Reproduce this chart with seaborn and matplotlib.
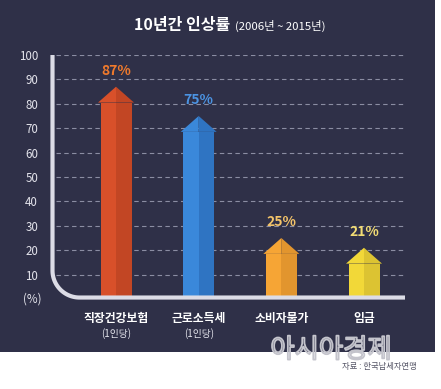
import numpy as np
import pandas as pd
import matplotlib
matplotlib.use("Agg")
import matplotlib.pyplot as plt
import seaborn as sns
from matplotlib.patches import Rectangle, Polygon
import matplotlib.patheffects as pe

categories = ["직장건강보험", "근로소득세", "소비자물가", "임금"]
sublabels = ["(1인당)", "(1인당)", "", ""]
values = [87, 75, 25, 21]
yticks = [10, 20, 30, 40, 50, 60, 70, 80, 90, 100]

colors_left = ["#d8502a", "#3a88da", "#f6a535", "#f2d838"]
colors_right = ["#c24624", "#2f74c2", "#e2952e", "#dcc332"]
label_colors = ["#f07a2c", "#4b93e2", "#f4c46a", "#f2dc74"]

BG = "#2f3048"
sns.set_theme(style="white")
plt.rcParams['font.family'] = ['Noto Sans CJK KR', 'DejaVu Sans']

W, H = 441, 389
fig = plt.figure(figsize=(W / 100, H / 100), dpi=100)
fig.patch.set_facecolor("white")
fig.patches.append(Rectangle((0, (H - 352) / H), 435 / W, 352 / H,
                             transform=fig.transFigure, facecolor=BG,
                             edgecolor="none", zorder=-5))

# axes mapping: y=0 at px 299, y=100 at px 55; x cat0 at 116, cat3 at 364
px_per_x = (364 - 116) / 3
x_left, x_right = 52, 410
ax = fig.add_axes([x_left / W, (H - 299) / H, (x_right - x_left) / W, (299 - 55) / H])
ax.set_zorder(2)
ax.set_facecolor("none")

df = pd.DataFrame({"cat": categories, "val": values})
bw = 31 / px_per_x
sns.barplot(data=df, x="cat", y="val", ax=ax, width=bw, palette=colors_left,
            hue="cat", legend=False, saturation=1, zorder=3)

xl = (x_left - 116) / px_per_x
xr = (x_right - 116) / px_per_x
ax.set_xlim(xl, xr)
ax.set_ylim(0, 100)

head_h = 6.5
head_extra = 2.5 / px_per_x
bars = list(ax.patches)
for i, p in enumerate(bars):
    x0 = p.get_x(); w = p.get_width(); top = values[i]
    shaft_top = top - head_h
    p.set_height(shaft_top)
    p.set_edgecolor("none")
    cx = x0 + w / 2
    ax.add_patch(Rectangle((cx, 0), w / 2, shaft_top, facecolor=colors_right[i],
                           edgecolor="none", zorder=3.1))
    ax.add_patch(Polygon([(x0 - head_extra, shaft_top), (cx, top), (cx, shaft_top)],
                         closed=True, facecolor=colors_left[i], edgecolor="none", zorder=3.2))
    ax.add_patch(Polygon([(cx, shaft_top), (cx, top), (x0 + w + head_extra, shaft_top)],
                         closed=True, facecolor=colors_right[i], edgecolor="none", zorder=3.2))
    ax.text(cx, top + 3.5, f"{values[i]}%", ha="center", va="bottom",
            color=label_colors[i], fontsize=10, fontweight="bold", zorder=4)

# dashed gridlines
for t in yticks:
    ax.plot([xl + 4 / px_per_x, xr - 5 / px_per_x], [t, t], ls=(0, (4, 3)),
            color="#8b8da3", lw=0.8, zorder=1)

# rounded axis line
ppy = (299 - 55) / 100
rx = 27 / px_per_x
ry = 27 / ppy
y_base = 0.6
xs = xl + 0.5 / px_per_x
theta = np.linspace(np.pi, 1.5 * np.pi, 40)
arc_x = xs + rx + rx * np.cos(theta)
arc_y = y_base + ry + ry * np.sin(theta)
path_x = np.concatenate([[xs], arc_x, [xr - 5 / px_per_x]])
path_y = np.concatenate([[100], arc_y, [y_base]])
ax.plot(path_x, path_y, color="#dcdce6", lw=3, solid_capstyle="butt", zorder=5, clip_on=False)

ax.set_yticks(yticks)
ax.set_yticklabels([str(t) for t in yticks], color="#e4e4ec", fontsize=8.3)
ax.tick_params(axis="y", length=0, pad=10)
ax.set_xticks([])
ax.set_xlabel(""); ax.set_ylabel("")
for s in ax.spines.values():
    s.set_visible(False)
ax.text(-0.03, 0.0, "(%)", transform=ax.transAxes, ha="right", va="center",
        color="#e4e4ec", fontsize=8.3)

# category labels
for i, c in enumerate(categories):
    ax.text(i, -7.8, c, ha="center", va="center", color="white", fontsize=8.5,
            fontweight="bold", clip_on=False)
    if sublabels[i]:
        ax.text(i, -14, sublabels[i], ha="center", va="center", color="#e4e4ec",
                fontsize=7, clip_on=False)

# title
fig.text(230 / W, 1 - 25 / H, "10년간 인상률", ha="right", va="center", color="white",
         fontsize=11.5, fontweight="bold")
fig.text(235 / W, 1 - 25.5 / H, "(2006년 ~ 2015년)", ha="left", va="center", color="white",
         fontsize=8.2)

# watermark and source
fig.text(331 / W, 1 - 350 / H, "아시아경제", ha="center", va="center", fontsize=19,
         color="none",
         path_effects=[pe.Stroke(linewidth=1.3, foreground="#c4c4cc")])
fig.text(379 / W, 1 - 367 / H, "자료 : 한국납세자연맹", ha="center", va="center",
         fontsize=6, color="#555566")

fig.savefig("out.png", dpi=100, facecolor=fig.get_facecolor())
